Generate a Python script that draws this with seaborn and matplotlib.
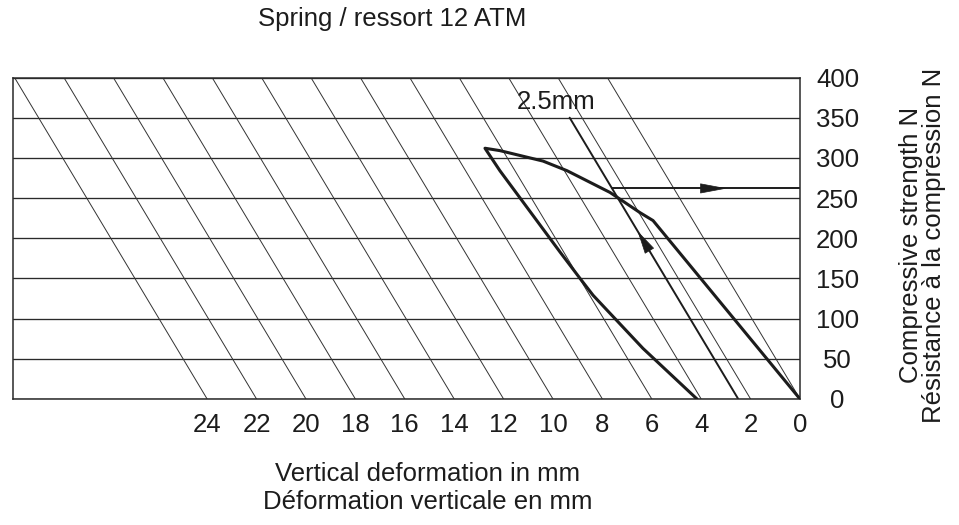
import numpy as np
import pandas as pd
import matplotlib
matplotlib.use("Agg")
import matplotlib.pyplot as plt
import seaborn as sns

# ---------------- data ----------------
force_ticks = [0, 50, 100, 150, 200, 250, 300, 350, 400]          # N
deform_ticks = [0, 2, 4, 6, 8, 10, 12, 14, 16, 18, 20, 22, 24]    # mm

# hysteresis loop (deformation mm, force N)
curve_deform = [0.0, 1.62, 1.96, 2.68, 3.89, 4.63, 6.12, 6.67, 6.61, 6.15, 5.98, 5.86, 5.13, 4.17]
curve_force = [0, 222, 232, 257, 284, 296, 309, 312, 284, 183, 150, 129, 63, 0]

ref_deform = 2.5          # the "2.5mm" reference line
ref_force_range = [0, 350]
hold_force = 262          # horizontal arrow line level
up_arrow_force = [183, 209]

title = "Spring / ressort 12 ATM"
xlabel_lines = ["Vertical deformation in mm", "Déformation verticale en mm"]
ylabel_lines = ["Compressive strength N", "Résistance à la compression N"]

# chart geometry: lines of equal deformation are sheared
SHEAR = 7.8 / 400.0       # mm of horizontal offset per N
U_LEFT = 31.86


def skew(d, f):
    return np.asarray(d, dtype=float) + SHEAR * np.asarray(f, dtype=float)


sns.set_theme(style="white")
plt.rcParams["font.family"] = ["Liberation Sans", "DejaVu Sans"]
FS = 18.5
INK = "#1c1c1c"

fig = plt.figure(figsize=(9.59, 5.25), dpi=100)
ax = fig.add_axes([13 / 959, 1 - 399 / 525, 787 / 959, (399 - 77.5) / 525])

# horizontal force grid
for f in force_ticks:
    ax.axhline(f, color="#2a2a2a", lw=0.95, zorder=1)

# sheared deformation grid
for d in deform_ticks:
    ax.plot(skew([d, d], [0, 400]), [0, 400], color="#333333", lw=0.7, zorder=1)

# 2.5 mm reference line
ax.plot(skew([ref_deform] * 2, ref_force_range), ref_force_range, color=INK, lw=1.4, zorder=2)
ax.text(9.88, 370, "2.5mm", ha="center", va="center", fontsize=FS, color=INK, zorder=4)

# horizontal arrow line
u_start = float(skew(ref_deform, hold_force))
ax.plot([u_start, 0], [hold_force, hold_force], color=INK, lw=1.4, zorder=2)
ax.annotate("", xy=(2.96, hold_force), xytext=(3.93, hold_force),
            arrowprops=dict(arrowstyle="-|>,head_length=1.6,head_width=0.3",
                            mutation_scale=11, color=INK, lw=0.5,
                            shrinkA=0, shrinkB=0), zorder=3)
# upward arrow on the reference line
ax.annotate("", xy=(float(skew(ref_deform, up_arrow_force[1])), up_arrow_force[1]),
            xytext=(float(skew(ref_deform, up_arrow_force[0])), up_arrow_force[0]),
            arrowprops=dict(arrowstyle="-|>,head_length=1.4,head_width=0.32",
                            mutation_scale=11, color=INK, lw=0.5,
                            shrinkA=0, shrinkB=0), zorder=3)

# loop curve
df = pd.DataFrame({"u": skew(curve_deform, curve_force), "force": curve_force})
sns.lineplot(data=df, x="u", y="force", sort=False, estimator=None,
             color=INK, lw=2.2, ax=ax, zorder=3)

ax.set_xlim(U_LEFT, 0)
ax.set_ylim(0, 400)
ax.set_xlabel("")
ax.set_ylabel("")

ax.set_xticks(deform_ticks)
ax.set_xticklabels([str(v) for v in deform_ticks])
ax.tick_params(axis="x", length=0, pad=10, labelsize=FS, colors=INK)

ax.yaxis.tick_right()
ax.set_yticks(force_ticks)
ax.set_yticklabels([str(v) for v in force_ticks])
ax.tick_params(axis="y", length=0, pad=27, labelsize=FS, colors=INK)
plt.setp(ax.get_yticklabels(), ha="center")

for sp in ax.spines.values():
    sp.set_visible(True)
    sp.set_color("#2a2a2a")
    sp.set_linewidth(1.1)

fig.text(392 / 959, 1 - 19 / 525, title, ha="center", va="center", fontsize=FS, color=INK)
fig.text(428 / 959, 1 - 474 / 525, xlabel_lines[0], ha="center", va="center", fontsize=FS, color=INK)
fig.text(428 / 959, 1 - 502 / 525, xlabel_lines[1], ha="center", va="center", fontsize=FS, color=INK)
fig.text(911 / 959, 1 - 245 / 525, ylabel_lines[0], ha="center", va="center", rotation=90, fontsize=FS, color=INK)
fig.text(934 / 959, 1 - 245 / 525, ylabel_lines[1], ha="center", va="center", rotation=90, fontsize=FS, color=INK)

fig.savefig("out.png", dpi=100, facecolor="white")
